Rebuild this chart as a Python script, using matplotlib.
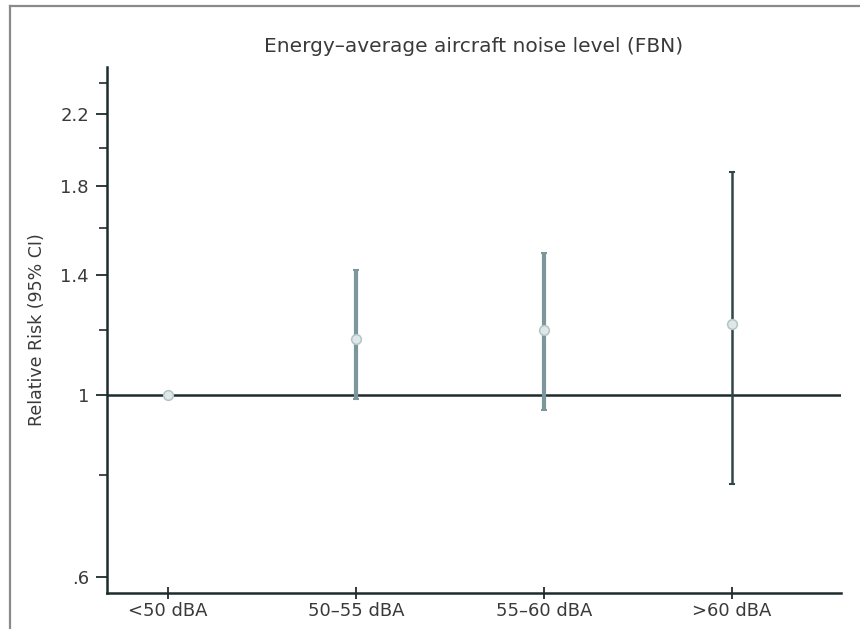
import matplotlib
matplotlib.use("Agg")
import matplotlib.pyplot as plt
from matplotlib.lines import Line2D
from matplotlib.ticker import FixedLocator, NullFormatter
import numpy as np

plt.rcParams["font.family"] = ["DejaVu Sans"]

# relative risk by aircraft noise band, <50 dBA is the reference
categories = ["<50 dBA", "50\u201355 dBA", "55\u201360 dBA", ">60 dBA"]
rr = [1.0, 1.17, 1.20, 1.22]
ci_low = [1.0, 0.99, 0.96, 0.78]
ci_high = [1.0, 1.42, 1.49, 1.87]

major_ticks = [0.6, 1.0, 1.4, 1.8, 2.2]
major_labels = [".6", "1", "1.4", "1.8", "2.2"]
minor_ticks = [0.8, 1.2, 1.6, 2.0, 2.4]

TEXT = "#3a3a3a"
AXIS = "#1e2c2d"

fig = plt.figure(figsize=(8.6, 6.29), dpi=100)
ax = fig.add_axes([107 / 860, 1 - 593 / 629, (841 - 107) / 860, (593 - 67) / 629])

x = np.arange(len(categories))

# CI bars: the two middle bands in a lighter, heavier stroke
bar_styles = [None,
              dict(color="#7b979b", lw=3.0),
              dict(color="#7b979b", lw=3.0),
              dict(color="#2e4749", lw=1.8)]
for i in range(len(categories)):
    if bar_styles[i] is None:
        continue
    ax.errorbar(x[i], rr[i],
                yerr=[[rr[i] - ci_low[i]], [ci_high[i] - rr[i]]],
                fmt="none", ecolor=bar_styles[i]["color"],
                elinewidth=bar_styles[i]["lw"], capsize=2, capthick=1.5,
                zorder=3)

ax.plot(x, rr, linestyle="none", marker="o", markersize=7,
        markerfacecolor="#dfe8e9", markeredgecolor="#b3c4c6",
        markeredgewidth=1.1, zorder=4)

ax.axhline(1.0, color=AXIS, lw=1.8, zorder=2)

ax.set_yscale("log")
ax.set_ylim(0.574, 2.51)
ax.set_xlim(-0.324, 3.58)

ax.yaxis.set_major_locator(FixedLocator(major_ticks))
ax.set_yticklabels(major_labels)
ax.yaxis.set_minor_locator(FixedLocator(minor_ticks))
ax.yaxis.set_minor_formatter(NullFormatter())

ax.set_xticks(x)
ax.set_xticklabels(categories)

ax.tick_params(axis="y", which="major", direction="out", length=8, width=1.3,
               color=AXIS, labelcolor=TEXT, labelsize=13, pad=5)
ax.tick_params(axis="y", which="minor", direction="out", length=6, width=1.2,
               color=AXIS)
ax.tick_params(axis="x", direction="inout", length=9, width=1.3,
               color=AXIS, labelcolor=TEXT, labelsize=13, pad=2)

for side in ("top", "right"):
    ax.spines[side].set_visible(False)
for side in ("left", "bottom"):
    ax.spines[side].set_color(AXIS)
    ax.spines[side].set_linewidth(1.8)

ax.set_ylabel("Relative Risk (95% CI)", fontsize=12.5, color=TEXT)
ax.yaxis.set_label_coords(-0.083, 0.5)
ax.set_title("Energy\u2013average aircraft noise level (FBN)",
             fontsize=14.5, color=TEXT, pad=11)

# page frame around the figure
fig.add_artist(Line2D([9.5 / 860, 9.5 / 860], [0, 1 - 6 / 629],
                      transform=fig.transFigure, color="#8a8a8a", lw=1.6))
fig.add_artist(Line2D([9.5 / 860, 1], [1 - 6 / 629, 1 - 6 / 629],
                      transform=fig.transFigure, color="#8a8a8a", lw=1.6))

fig.savefig("out.png", dpi=100)
